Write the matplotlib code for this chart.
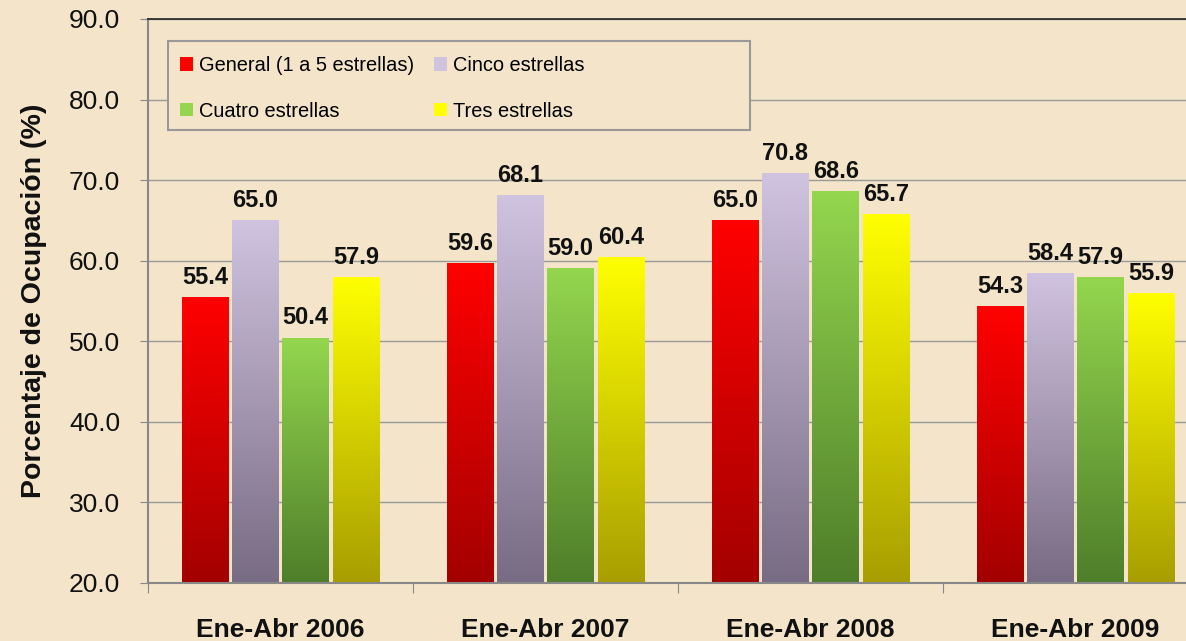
import matplotlib
matplotlib.use("Agg")
import matplotlib.pyplot as plt
import numpy as np
from matplotlib.colors import LinearSegmentedColormap
from matplotlib.patches import Patch, Rectangle

plt.rcParams['font.family'] = ['Liberation Sans', 'DejaVu Sans']

categories = ["Ene-Abr 2006", "Ene-Abr 2007", "Ene-Abr 2008", "Ene-Abr 2009"]
series_names = ["General (1 a 5 estrellas)", "Cinco estrellas", "Cuatro estrellas", "Tres estrellas"]
general = [55.4, 59.6, 65.0, 54.3]
cinco = [65.0, 68.1, 70.8, 58.4]
cuatro = [50.4, 59.0, 68.6, 57.9]
tres = [57.9, 60.4, 65.7, 55.9]
series = [general, cinco, cuatro, tres]
yticks = [20, 30, 40, 50, 60, 70, 80, 90]

top_colors = ["#FF0000", "#CFC3E0", "#94D64E", "#FFFF00"]
bot_colors = ["#A30000", "#786C84", "#4E7E2A", "#A89E00"]

bg = "#F3E4CA"
fig = plt.figure(figsize=(11.86, 6.41), dpi=100, facecolor=bg)
W, H = 1186, 641
AW, AH = 1060, 564
ax = fig.add_axes([148 / W, 1 - 583 / H, AW / W, AH / H])
ax.set_facecolor("none")

bw = 0.175
step = 0.19
x = np.arange(len(categories))
offsets = (np.arange(4) - 1.5) * step + 0.5

for i, (vals, name) in enumerate(zip(series, series_names)):
    cmap = LinearSegmentedColormap.from_list("g%d" % i, [bot_colors[i], top_colors[i]])
    bars = ax.bar(x + offsets[i], vals, width=bw, bottom=0, color="none",
                  label=name, zorder=2, linewidth=0)
    grad = np.linspace(0, 1, 256).reshape(-1, 1)
    for b, v in zip(bars, vals):
        bx = b.get_x()
        ax.imshow(grad, cmap=cmap, origin="lower", aspect="auto",
                  extent=(bx, bx + bw, 20, v), zorder=2, interpolation="bilinear")
        ax.text(bx + bw / 2, v + 1.1, f"{v:.1f}", ha="center", va="bottom",
                fontsize=17, fontweight="bold", color="#111111", zorder=4)

ax.set_xlim(0, 4)
ax.set_ylim(20, 90)

ax.set_yticks(yticks)
ax.set_yticklabels([f"{t:.1f}" for t in yticks], fontsize=19, color="#111111")
ax.yaxis.grid(True, color="#9A9A9A", linewidth=1.0, zorder=0)
ax.set_axisbelow(True)
ax.tick_params(axis="y", length=6, color="#888888", pad=14)

ax.set_xticks([0, 1, 2, 3, 4])
ax.set_xticklabels([])
ax.tick_params(axis="x", length=7, color="#888888")
for xi, c in zip(x, categories):
    ax.text(xi + 0.5, -0.062, c, transform=ax.get_xaxis_transform(), ha="center", va="top",
            fontsize=19, fontweight="bold", color="#111111")

for s in ["left", "bottom"]:
    ax.spines[s].set_color("#888888")
    ax.spines[s].set_linewidth(1.5)
ax.spines["right"].set_visible(False)
ax.spines["top"].set_color("#222222")
ax.spines["top"].set_linewidth(1.2)

ax.set_ylabel("Porcentaje de Ocupación (%)", fontsize=20.5, fontweight="bold",
              color="#111111", labelpad=16)

# legend frame (drawn separately to match the reference box size)
frame = Rectangle((20 / AW, 1 - (130 - 19) / AH), 582 / AW, (130 - 41) / AH,
                  transform=ax.transAxes, facecolor=bg, edgecolor="#999999",
                  linewidth=1.5, zorder=5, clip_on=False)
ax.add_patch(frame)

order = [0, 2, 1, 3]
hs = [Patch(facecolor=top_colors[i], edgecolor="none") for i in order]
leg = ax.legend(hs, [series_names[i] for i in order], ncol=2, loc="upper left",
                bbox_to_anchor=(32 / AW, 1 - (56 - 19) / AH), frameon=False,
                fontsize=14.4, handlelength=0.65, handleheight=0.65, handletextpad=0.3,
                columnspacing=1.0, labelspacing=1.33, borderpad=0, fancybox=False,
                borderaxespad=0)
leg.set_zorder(6)

fig.savefig("out.png", dpi=100, facecolor=bg)
